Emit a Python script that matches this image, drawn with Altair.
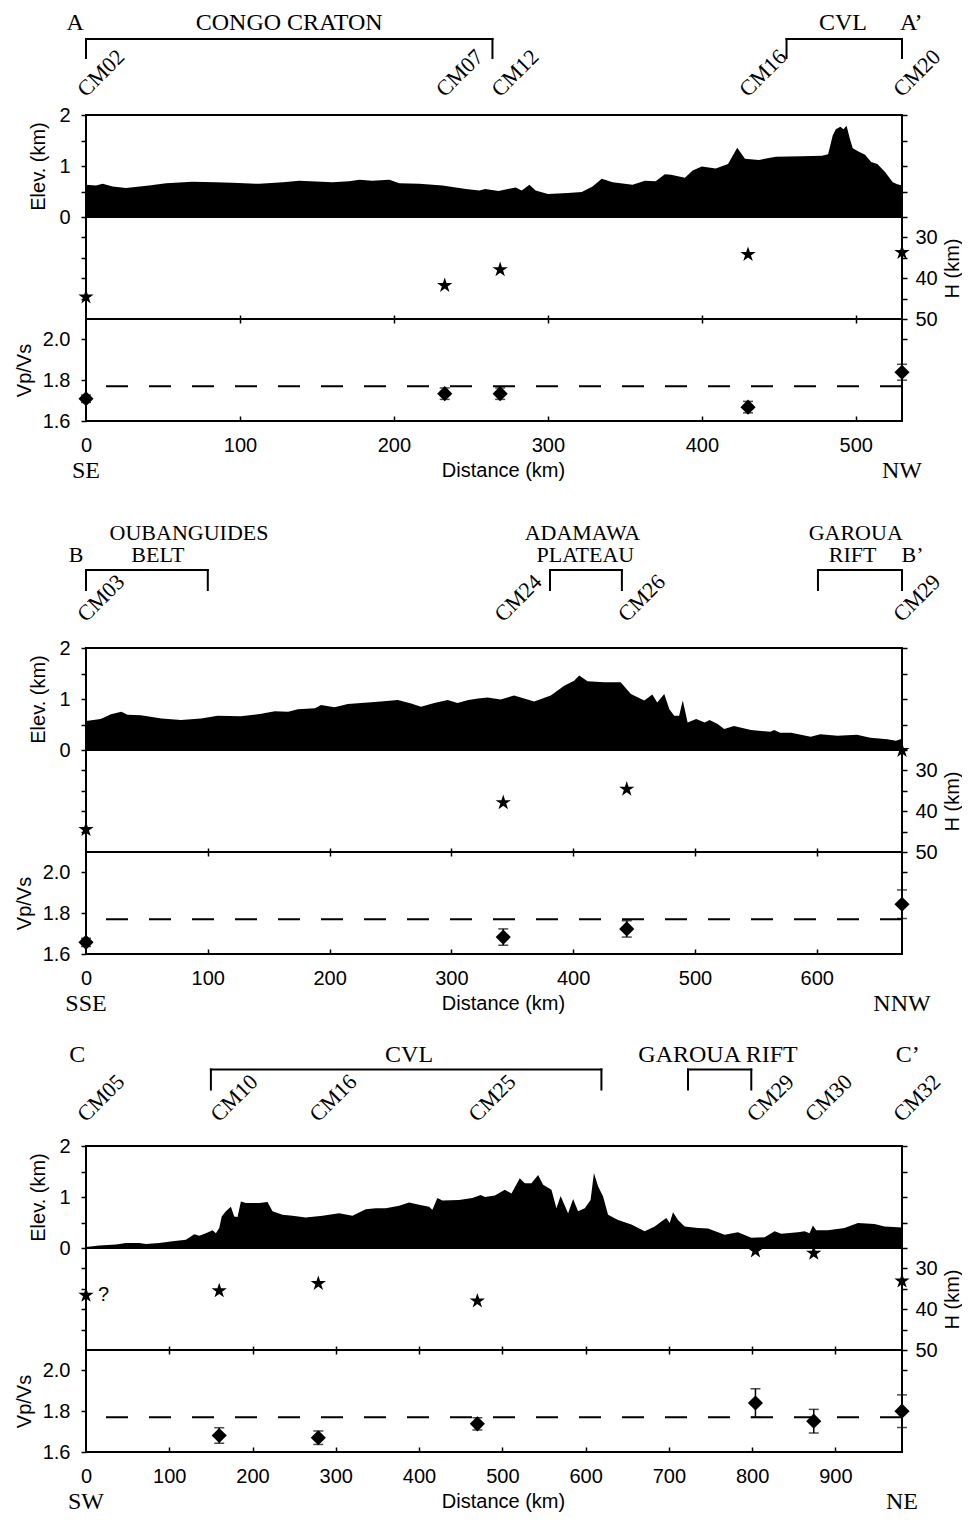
import altair as alt
import pandas as pd

# ================= DATA =================
# ---- Profile A - A' (SE -> NW) ----
A_profile = [(0, 0.63), (6.5, 0.62), (10.8, 0.65), (17.3, 0.60), (26, 0.57), (41, 0.62), (52, 0.66),
             (69, 0.69), (84, 0.68), (95, 0.67), (112.6, 0.65), (128, 0.68), (138.5, 0.71), (160, 0.68),
             (171, 0.70), (177.5, 0.73), (186, 0.71), (197, 0.73), (203.5, 0.66), (216.5, 0.65),
             (231.6, 0.62), (246.8, 0.55), (255.4, 0.52), (259.3, 0.55), (268, 0.51), (279, 0.58),
             (283, 0.52), (288, 0.63), (292, 0.52), (300, 0.45), (313, 0.47), (322, 0.49), (329, 0.60),
             (335, 0.75), (342, 0.68), (355, 0.63), (363, 0.71), (370, 0.70), (376, 0.84), (380, 0.83),
             (389, 0.77), (394, 0.91), (400, 0.99), (409, 0.95), (417, 1.04), (423, 1.36), (428, 1.14),
             (437, 1.12), (448, 1.18), (465, 1.19), (478, 1.20), (482, 1.23), (485, 1.60), (487, 1.72),
             (490, 1.77), (492, 1.72), (494, 1.79), (496, 1.55), (498, 1.35), (502, 1.28), (506, 1.22),
             (510, 1.08), (514, 1.04), (519, 0.88), (524, 0.68), (527, 0.64), (530, 0.62)]
A_xmax = 530
A_sta = ["CM02", "CM07", "CM12", "CM16", "CM20"]
A_sta_km = [0, 233, 269, 430, 530]
A_H = [44.6, 41.8, 37.9, 34.2, 33.7]
A_vp = [1.709, 1.734, 1.734, 1.668, 1.839]
A_vp_err = [0.018, 0.028, 0.028, 0.028, 0.039]
A_head_text = ["A", "CONGO CRATON", "CVL", "A\u2019"]
A_head_km = [-7, 132, 491.6, 536]
A_brackets = [(0, 264), (455, 530)]
A_dirs = ["SE", "NW"]
A_xticks = [0, 100, 200, 300, 400, 500]

# ---- Profile B - B' (SSE -> NNW) ----
B_profile = [(0, 0.57), (12, 0.61), (18, 0.67), (20.5, 0.70), (29, 0.75), (34, 0.69), (45, 0.68),
             (62, 0.62), (78, 0.59), (94.5, 0.62), (108, 0.67), (127, 0.66), (144, 0.71), (155, 0.76),
             (166, 0.75), (174, 0.80), (188, 0.82), (193, 0.88), (204, 0.84), (215, 0.90), (231.5, 0.93),
             (242, 0.95), (256, 0.98), (267, 0.91), (275, 0.85), (286, 0.92), (297, 0.98), (305, 0.92),
             (314, 0.98), (322, 1.01), (329.6, 1.03), (340.5, 0.99), (351.5, 1.07), (368, 0.95),
             (381.6, 1.07), (392.6, 1.26), (400.8, 1.36), (405, 1.46), (411.8, 1.35), (425.5, 1.33),
             (439, 1.33), (447.4, 1.10), (458.4, 0.97), (465, 1.09), (469, 0.93), (474.8, 1.10),
             (479, 0.80), (483, 0.67), (487, 0.67), (490, 0.97), (494, 0.54), (501, 0.61), (508, 0.54),
             (512, 0.59), (518.6, 0.51), (524, 0.41), (532, 0.47), (546, 0.39), (562, 0.36), (565, 0.39),
             (570, 0.34), (579, 0.34), (595, 0.26), (603, 0.31), (617, 0.28), (633, 0.30), (644, 0.24),
             (658, 0.21), (665, 0.18), (670, 0.22)]
B_xmax = 670
B_sta = ["CM03", "CM24", "CM26", "CM29"]
B_sta_km = [0, 342.6, 444, 670]
B_H = [44.5, 37.9, 34.6, 25.1]
B_vp = [1.657, 1.683, 1.723, 1.844]
B_vp_err = [0.02, 0.04, 0.04, 0.07]
B_head1_text = ["OUBANGUIDES", "ADAMAWA", "GAROUA"]
B_head1_km = [84.6, 407.6, 632]
B_head2_text = ["B", "BELT", "PLATEAU", "RIFT", "B\u2019"]
B_head2_km = [-8.2, 59, 410, 629.4, 678.7]
B_brackets = [(0, 100), (381, 440), (601, 670)]
B_dirs = ["SSE", "NNW"]
B_xticks = [0, 100, 200, 300, 400, 500, 600]

# ---- Profile C - C' (SW -> NE) ----
C_profile = [(0, 0.02), (16, 0.05), (36, 0.07), (48, 0.10), (64, 0.10), (72, 0.08), (88, 0.10),
             (104, 0.13), (120, 0.16), (130, 0.27), (136, 0.24), (144, 0.29), (152, 0.35), (156, 0.29),
             (160, 0.39), (163, 0.62), (168, 0.72), (174, 0.81), (178, 0.62), (182, 0.61), (186, 0.91),
             (192, 0.88), (208, 0.88), (218, 0.90), (224, 0.72), (236, 0.65), (248, 0.63), (264, 0.60),
             (284, 0.63), (304, 0.68), (320, 0.63), (336, 0.76), (348, 0.78), (360, 0.78), (376, 0.83),
             (388, 0.89), (400, 0.85), (412, 0.81), (416, 0.75), (422, 0.98), (428, 0.93), (448, 0.94),
             (464, 0.98), (474, 1.04), (479, 1.00), (491, 1.03), (503, 1.14), (511, 1.07), (521, 1.37),
             (527, 1.27), (535, 1.27), (543, 1.43), (549, 1.24), (559, 1.14), (565, 0.78), (570, 1.02),
             (579, 0.68), (585, 0.96), (591, 0.72), (599, 0.78), (606, 0.94), (610, 1.47), (615, 1.21),
             (621, 1.01), (627, 0.65), (639, 0.55), (655, 0.46), (671, 0.33), (683, 0.42), (691, 0.52),
             (697, 0.59), (701, 0.49), (705, 0.70), (711, 0.55), (719, 0.42), (735, 0.39), (747, 0.38),
             (767, 0.26), (783, 0.31), (799, 0.20), (815, 0.21), (827, 0.33), (835, 0.28), (855, 0.31),
             (863, 0.33), (869, 0.29), (873, 0.44), (877, 0.35), (891, 0.35), (911, 0.39), (927, 0.49),
             (947, 0.47), (959, 0.42), (980, 0.40)]
C_xmax = 980
C_sta = ["CM05", "CM10", "CM16", "CM25", "CM29", "CM30", "CM32"]
C_sta_km = [0, 160, 279, 470, 804, 874, 980]
C_H = [36.6, 35.5, 33.7, 38.0, 25.7, 26.3, 33.1]
C_vp_sta_km = [160, 279, 470, 804, 874, 980]
C_vp = [1.681, 1.670, 1.738, 1.840, 1.751, 1.800]
C_vp_err = [0.038, 0.033, 0.030, 0.070, 0.058, 0.080]
C_head_text = ["C", "CVL", "GAROUA RIFT", "C\u2019"]
C_head_km = [-10.4, 388, 759, 987]
C_brackets = [(150, 619), (723, 799)]
C_note_km = [21]
C_note_H = [36.6]
C_note_text = ["?"]
C_dirs = ["SW", "NE"]
C_xticks = [0, 100, 200, 300, 400, 500, 600, 700, 800, 900]

REF_VPVS = [1.77]

# ================= STYLE =================
W = 816
PH = 102
SANS = "Liberation Sans"
SERIF = "Liberation Serif"
FS = 20
STAR = ("M0,-1 L0.2245,-0.309 L0.951,-0.309 L0.363,0.118 L0.588,0.809 L0,0.382 "
        "L-0.588,0.809 L-0.363,0.118 L-0.951,-0.309 L-0.2245,-0.309 Z")

AX = dict(grid=False, domain=False, tickColor="black", tickWidth=1.5, labelColor="black",
          titleColor="black", labelFont=SANS, titleFont=SANS, labelFontSize=FS,
          titleFontSize=FS, titleFontWeight="normal", labelFlush=False)


def X(xmax, axis=None):
    return alt.X("km:Q", scale=alt.Scale(domain=[0, xmax], nice=False, zero=False), axis=axis)


def elev_panel(profile, xmax, rows, brackets, stations, sta_km, br_top, br_bot, lab_y):
    df = pd.DataFrame(profile, columns=["km", "elev"])
    ysc = alt.Scale(domain=[0, 2], nice=False, zero=False)
    layers = [
        alt.Chart(df).mark_area(color="black", interpolate="linear", opacity=1).encode(
            x=X(xmax),
            y=alt.Y("elev:Q", scale=ysc, axis=alt.Axis(
                orient="left", values=[0, 0.5, 1, 1.5, 2],
                labelExpr="datum.value % 1 === 0 ? format(datum.value, 'd') : ''",
                title="Elev. (km)", tickSize=5, labelPadding=11, titlePadding=10, **AX))),
        alt.Chart(df).mark_line(opacity=0).encode(
            x=X(xmax),
            y=alt.Y("elev:Q", scale=ysc, axis=alt.Axis(
                orient="right", values=[0, 0.5, 1, 1.5, 2], labels=False, title=None,
                tickSize=5, **AX))),
    ]
    for yoff, fsz, texts, kms in rows:
        tdf = pd.DataFrame({"km": kms, "label": texts})
        layers.append(alt.Chart(tdf).mark_text(font=SERIF, fontSize=fsz, align="center",
                                               baseline="middle", color="black").encode(
            x=X(xmax), y=alt.value(yoff), text="label:N"))
    bdf = pd.DataFrame({"km": [b[0] for b in brackets], "km2": [b[1] for b in brackets]})
    layers.append(alt.Chart(bdf).mark_rule(color="black", strokeWidth=2, strokeCap="square").encode(
        x=X(xmax), x2="km2:Q", y=alt.value(br_top)))
    edf = pd.DataFrame({"km": [b[0] for b in brackets] + [b[1] for b in brackets]})
    layers.append(alt.Chart(edf).mark_rule(color="black", strokeWidth=2, strokeCap="square").encode(
        x=X(xmax), y=alt.value(br_top), y2=alt.value(br_bot)))
    sdf = pd.DataFrame({"km": sta_km, "label": stations})
    layers.append(alt.Chart(sdf).mark_text(font=SERIF, fontSize=22, align="left",
                                           baseline="alphabetic", angle=315, color="black").encode(
        x=X(xmax), y=alt.value(lab_y), text="label:N"))
    return alt.layer(*layers).resolve_axis(y="independent").properties(width=W, height=PH)


def h_panel(sta_km, H, xmax, note=None):
    df = pd.DataFrame({"km": sta_km, "H": H})
    ysc = alt.Scale(domain=[25, 50], reverse=True, nice=False, zero=False)
    layers = [
        alt.Chart(df).mark_point(shape=STAR, filled=True, color="black", size=260, opacity=1).encode(
            x=X(xmax),
            y=alt.Y("H:Q", scale=ysc, axis=alt.Axis(
                orient="left", values=[30, 35, 40, 45], labels=False, title=None, tickSize=5, **AX))),
        alt.Chart(df).mark_point(opacity=0).encode(
            x=X(xmax),
            y=alt.Y("H:Q", scale=ysc, axis=alt.Axis(
                orient="right", values=[30, 35, 40, 45, 50],
                labelExpr="datum.value % 10 === 0 ? format(datum.value, 'd') : ''",
                title="H (km)", titleAngle=270, titleBaseline="top", tickSize=5,
                labelPadding=8, titlePadding=5, **AX))),
    ]
    if note is not None:
        ndf = pd.DataFrame({"km": note[0], "H": note[1], "label": note[2]})
        layers.append(alt.Chart(ndf).mark_text(font=SANS, fontSize=20, color="black").encode(
            x=X(xmax), y=alt.Y("H:Q", scale=ysc, axis=None), text="label:N"))
    return alt.layer(*layers).resolve_axis(y="independent").properties(width=W, height=PH)


def vp_panel(sta_km, vp, err, xmax, xticks, dirs):
    df = pd.DataFrame({"km": sta_km, "vp": vp,
                       "lo": [v - e for v, e in zip(vp, err)],
                       "hi": [v + e for v, e in zip(vp, err)]})
    ysc = alt.Scale(domain=[1.6, 2.1], nice=False, zero=False)
    inner = [t for t in xticks if t > 0]
    bottom_axis = alt.Axis(orient="bottom", values=xticks, ticks=False, labelPadding=14,
                           title="Distance (km)", titlePadding=5, titleX=417, **AX)
    top_axis = alt.Axis(orient="top", values=inner, labels=False, title=None, offset=-4,
                        tickSize=8, **AX)
    inner_axis = alt.Axis(orient="bottom", values=inner, labels=False, title=None, offset=-5,
                          tickSize=5, **AX)
    rdf = pd.DataFrame({"ref": REF_VPVS})
    ddf = pd.DataFrame({"km": [0, xmax], "label": dirs})
    layers = [
        alt.Chart(rdf).mark_rule(color="black", strokeWidth=2, strokeDash=[22, 21]).encode(
            y=alt.Y("ref:Q", scale=ysc, axis=None)),
        alt.Chart(df).mark_rule(color="black", strokeWidth=1.5).encode(
            x=X(xmax), y=alt.Y("lo:Q", scale=ysc, axis=None), y2="hi:Q"),
        alt.Chart(df).mark_tick(color="black", orient="horizontal", size=10, thickness=1.5).encode(
            x=X(xmax), y=alt.Y("lo:Q", scale=ysc, axis=None)),
        alt.Chart(df).mark_tick(color="black", orient="horizontal", size=10, thickness=1.5).encode(
            x=X(xmax), y=alt.Y("hi:Q", scale=ysc, axis=None)),
        alt.Chart(df).mark_point(shape="diamond", filled=True, color="black", size=230, opacity=1).encode(
            x=X(xmax, bottom_axis),
            y=alt.Y("vp:Q", scale=ysc, axis=alt.Axis(
                orient="left", values=[1.6, 1.8, 2.0], format=".1f", title="Vp/Vs",
                tickSize=5, labelPadding=11, titlePadding=8, **AX))),
        alt.Chart(df).mark_point(opacity=0).encode(
            x=X(xmax, top_axis),
            y=alt.Y("vp:Q", scale=ysc, axis=alt.Axis(
                orient="right", values=[2.0], labels=False, title=None, tickSize=5, **AX))),
        alt.Chart(df).mark_point(opacity=0).encode(x=X(xmax, inner_axis)),
        alt.Chart(ddf).mark_text(font=SERIF, fontSize=24, baseline="middle", color="black").encode(
            x=X(xmax), y=alt.value(PH + 50), text="label:N"),
    ]
    return alt.layer(*layers).resolve_axis(x="independent", y="independent").properties(
        width=W, height=PH)


def spacer(h):
    return alt.Chart(pd.DataFrame({"km": [0]})).mark_point(opacity=0).encode(
        x=alt.value(0), y=alt.value(0)).properties(
        width=W, height=h, view=alt.ViewBackground(strokeOpacity=0))


panels = [
    elev_panel(A_profile, A_xmax, [(-92, 24, A_head_text, A_head_km)], A_brackets, A_sta, A_sta_km,
               -76, -57, -17),
    h_panel(A_sta_km, A_H, A_xmax),
    vp_panel(A_sta_km, A_vp, A_vp_err, A_xmax, A_xticks, A_dirs),
    spacer(227),
    elev_panel(B_profile, B_xmax, [(-115, 22, B_head1_text, B_head1_km),
                                   (-93, 22, B_head2_text, B_head2_km)],
               B_brackets, B_sta, B_sta_km, -78, -58, -25),
    h_panel(B_sta_km, B_H, B_xmax),
    vp_panel(B_sta_km, B_vp, B_vp_err, B_xmax, B_xticks, B_dirs),
    spacer(192),
    elev_panel(C_profile, C_xmax, [(-91, 24, C_head_text, C_head_km)], C_brackets, C_sta, C_sta_km,
               -76.5, -56.5, -23),
    h_panel(C_sta_km, C_H, C_xmax, note=(C_note_km, C_note_H, C_note_text)),
    vp_panel(C_vp_sta_km, C_vp, C_vp_err, C_xmax, C_xticks, C_dirs),
]

chart = alt.vconcat(*panels, spacing=0, bounds="flush").properties(
    padding={"left": 5, "right": -2, "top": 2, "bottom": 0}
).configure_view(stroke="black", strokeWidth=2)

chart.save("out.html", embed_options={"renderer": "svg", "actions": False})
